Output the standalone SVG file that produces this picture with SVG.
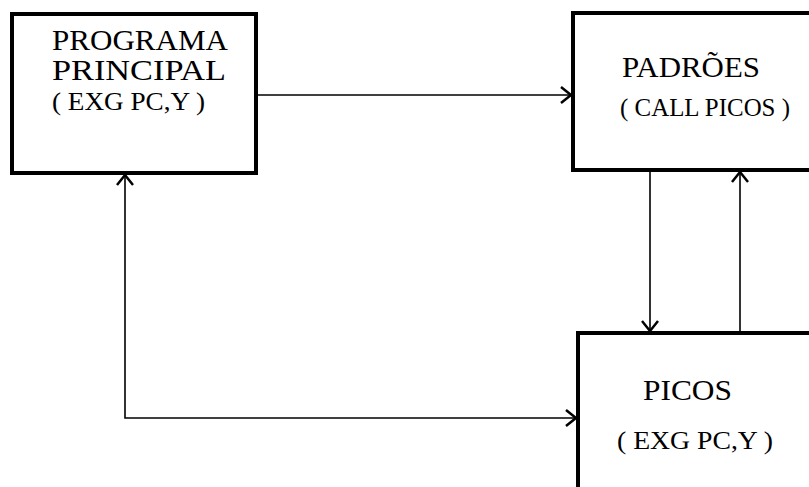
<svg xmlns="http://www.w3.org/2000/svg" width="809" height="487" viewBox="0 0 809 487">
<style>
.box{fill:#fff;stroke:#000;stroke-width:4}
.lbl{font-family:"Liberation Serif","Times New Roman",serif;font-size:29px;fill:#000}
.sub{font-family:"Liberation Serif","Times New Roman",serif;font-size:26px;fill:#000}
.conn{fill:none;stroke:#000;stroke-width:1.6}
</style>
<defs>
<marker id="ah" markerUnits="userSpaceOnUse" markerWidth="20" markerHeight="20" viewBox="-12 -10 14 20" refX="0" refY="0" orient="auto-start-reverse">
<path d="M-10,-8 L0,0 L-10,8" fill="none" stroke="#000" stroke-width="2.5"/>
</marker>
</defs>
<g id="programa">
<rect class="box" x="12" y="14" width="244" height="159"/>
<text class="lbl" x="52" y="50" textLength="176" lengthAdjust="spacingAndGlyphs">PROGRAMA</text>
<text class="lbl" x="52" y="80" textLength="174" lengthAdjust="spacingAndGlyphs">PRINCIPAL</text>
<text class="sub" x="52" y="110" textLength="153" lengthAdjust="spacingAndGlyphs">( EXG PC,Y )</text>
</g>
<g id="padroes">
<rect class="box" x="573" y="13" width="245" height="157"/>
<text class="lbl" x="622" y="77" textLength="138" lengthAdjust="spacingAndGlyphs">PADRÕES</text>
<text class="sub" x="620" y="116" textLength="170" lengthAdjust="spacingAndGlyphs">( CALL PICOS )</text>
</g>
<g id="picos">
<rect class="box" x="578" y="333" width="245" height="170"/>
<text class="lbl" x="643" y="400" textLength="89" lengthAdjust="spacingAndGlyphs">PICOS</text>
<text class="sub" x="617" y="449" textLength="156" lengthAdjust="spacingAndGlyphs">( EXG PC,Y )</text>
</g>
<g id="connectors">
<line class="conn" x1="258" y1="95" x2="571" y2="95" marker-end="url(#ah)"/>
<line class="conn" x1="650" y1="172" x2="650" y2="331" marker-end="url(#ah)"/>
<line class="conn" x1="740" y1="331" x2="740" y2="172" marker-end="url(#ah)"/>
<path class="conn" d="M125,175 L125,418 L576,418" marker-start="url(#ah)" marker-end="url(#ah)"/>
</g>
</svg>
